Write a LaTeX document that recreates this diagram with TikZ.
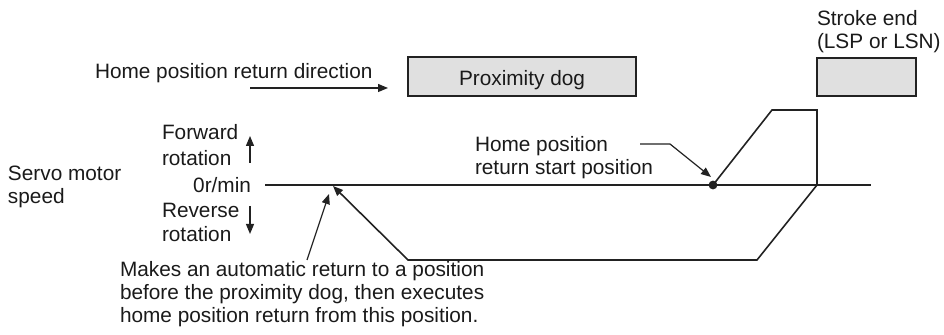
\documentclass[tikz,border=0pt]{standalone}
\usepackage{fontspec}
\setmainfont{Liberation Sans}
\usetikzlibrary{arrows.meta}
\definecolor{ink}{HTML}{1A1A1A}
\definecolor{linec}{HTML}{222222}
\definecolor{boxfill}{HTML}{E0E0E0}
\begin{document}
\begin{tikzpicture}[x=0.5pt,y=-0.5pt,
  txt/.style={anchor=base west,inner sep=0pt,outer sep=0pt,text=ink,font=\fontsize{10.4}{12}\selectfont},
  txtr/.style={txt,anchor=base east},
  txtc/.style={txt,anchor=base},
  dogbox/.style={draw=linec,fill=boxfill,line width=0.9pt},
  curve/.style={draw=linec,line width=0.8pt,line join=miter},
  zline/.style={draw=linec,line width=1pt},
  lead/.style={draw=linec,line width=0.6pt},
  tip/.style={-{Triangle[length=5pt,width=4pt]}}]
\useasboundingbox (0,0) rectangle (944,335);
% boxes
\draw[dogbox] (408,57) rectangle (636,96);
\node[txtc] (dog) at (522,86) {Proximity dog};
\draw[dogbox] (817,58) rectangle (916,96);
\node[txt] (se1) at (817,26) {Stroke end};
\node[txt] (se2) at (817,49) {(LSP or LSN)};
% direction
\node[txt] (dir) at (95,79) {Home position return direction};
\coordinate (d1) at (250,88);
\coordinate (d2) at (388,88);
\draw[lead,tip] (d1) -- (d2);
% left labels
\node[txt] (sm1) at (8,181) {Servo motor};
\node[txt] (sm2) at (8,204) {speed};
\node[txt] (fw1) at (162,140) {Forward};
\node[txt] (fw2) at (162,166) {rotation};
\node[txtr] (zero) at (251,193) {0r/min};
\node[txt] (rv1) at (162,218) {Reverse};
\node[txt] (rv2) at (162,242) {rotation};
\coordinate (u1) at (250,163);
\coordinate (u2) at (250,136);
\coordinate (w1) at (250,206);
\coordinate (w2) at (250,234);
\draw[lead,tip] (u1) -- (u2);
\draw[lead,tip] (w1) -- (w2);
% zero line
\coordinate (z0) at (265,185);
\coordinate (z1) at (871,185);
\draw[zline] (z0) -- (z1);
% speed pattern
\coordinate (s0) at (713,185);
\coordinate (s1) at (772,110);
\coordinate (s2) at (817,110);
\coordinate (s3) at (817,185);
\coordinate (s4) at (757,260);
\coordinate (s5) at (408,260);
\coordinate (s6) at (333,186);
\draw[curve,tip] (s0) -- (s1) -- (s2) -- (s3) -- (s4) -- (s5) -- (s6);
\fill[linec] (s0) circle (2.2pt);
% home start label
\node[txt] (hs1) at (475,152) {Home position};
\node[txt] (hs2) at (475,175) {return start position};
\coordinate (h1) at (640,144);
\coordinate (h2) at (670,144);
\coordinate (h3) at (711,177);
\draw[lead,tip] (h1) -- (h2) -- (h3);
% bottom note
\node[txt] (mk1) at (120,277) {Makes an automatic return to a position};
\node[txt] (mk2) at (120,300) {before the proximity dog, then executes};
\node[txt] (mk3) at (120,323) {home position return from this position.};
\coordinate (m1) at (307,260);
\coordinate (m2) at (329,194);
\draw[lead,tip] (m1) -- (m2);
\end{tikzpicture}
\end{document}
